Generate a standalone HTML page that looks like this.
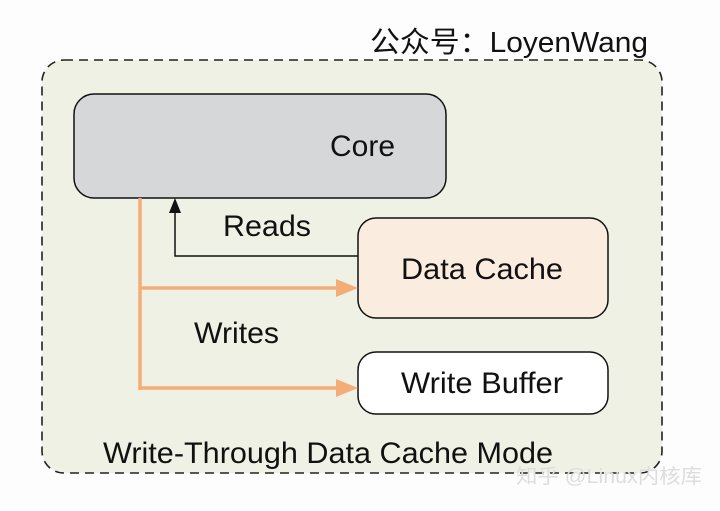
<!DOCTYPE html>
<html><head><meta charset="utf-8"><style>
body{margin:0;background:#fff;}
</style></head><body>
<svg width="720" height="506" viewBox="0 0 720 506" xmlns="http://www.w3.org/2000/svg" font-family="Liberation Sans, Noto Sans CJK SC, sans-serif">
<rect x="0" y="0" width="720" height="506" fill="#fdfdfd"/>
<rect x="42" y="60" width="620" height="413" rx="22" fill="#eff1e4" stroke="#222" stroke-width="1.6" stroke-dasharray="9,6"/>
<text x="370" y="52" font-size="29" fill="#111" textLength="278" lengthAdjust="spacingAndGlyphs">公众号：LoyenWang</text>
<rect x="74" y="94" width="372" height="104" rx="20" fill="#d6d7d9" stroke="#111" stroke-width="1.5"/>
<text x="330" y="156" font-size="30" fill="#111" textLength="65" lengthAdjust="spacingAndGlyphs">Core</text>
<rect x="358" y="218" width="250" height="100" rx="18" fill="#fbece0" stroke="#111" stroke-width="1.5"/>
<text x="401" y="279" font-size="30" fill="#111" textLength="162" lengthAdjust="spacingAndGlyphs">Data Cache</text>
<rect x="358" y="352" width="250" height="62" rx="18" fill="#fff" stroke="#111" stroke-width="1.5"/>
<text x="401" y="393" font-size="30" fill="#111" textLength="162" lengthAdjust="spacingAndGlyphs">Write Buffer</text>
<polyline points="358,256 175,256 175,212" fill="none" stroke="#111" stroke-width="1.5"/>
<polygon points="175,198 169,213 181,213" fill="#111"/>
<text x="223" y="236" font-size="30" fill="#111" textLength="88" lengthAdjust="spacingAndGlyphs">Reads</text>
<g stroke="#f5ad78" stroke-width="3.5" fill="none">
<line x1="140" y1="198" x2="140" y2="390"/>
<line x1="140" y1="288" x2="340" y2="288"/>
<line x1="140" y1="388" x2="340" y2="388"/>
</g>
<polygon points="358,288 336,279 336,297" fill="#f5ad78"/>
<polygon points="358,388 336,379 336,397" fill="#f5ad78"/>
<text x="194" y="343" font-size="30" fill="#111" textLength="85" lengthAdjust="spacingAndGlyphs">Writes</text>
<text x="103" y="463" font-size="30" fill="#111" textLength="450" lengthAdjust="spacingAndGlyphs">Write-Through Data Cache Mode</text>
<text x="516" y="483" font-size="20" fill="#ddd" textLength="186" lengthAdjust="spacingAndGlyphs">知乎 @Linux内核库</text>
</svg>
</body></html>
